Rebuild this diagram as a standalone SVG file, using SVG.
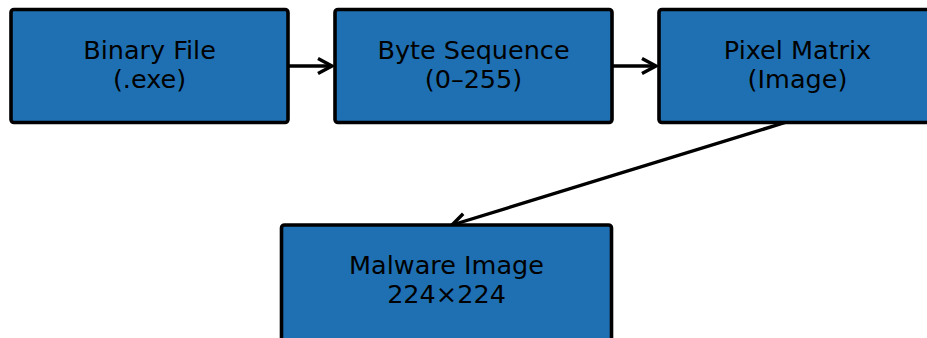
<svg xmlns="http://www.w3.org/2000/svg" width="927" height="338" viewBox="0 0 927 338">
<style>
.box{fill:#1f70b2;stroke:#000;stroke-width:3.6}
.t{font-family:"DejaVu Sans",sans-serif;font-size:25.5px;fill:#000;text-anchor:middle}
.c{stroke:#000;stroke-width:3.4;fill:none}
</style>
<defs>
<marker id="ah" markerUnits="userSpaceOnUse" markerWidth="20" markerHeight="20" refX="16" refY="10" orient="auto" viewBox="0 0 20 20">
<path d="M2,2.5 L16,10 L2,17.5" fill="none" stroke="#000" stroke-width="3.4" stroke-linecap="butt" stroke-linejoin="miter"/>
</marker>
</defs>
<rect width="927" height="338" fill="#fff"/>
<g id="connectors">
<line class="c" x1="288" y1="66" x2="332" y2="66" marker-end="url(#ah)"/>
<line class="c" x1="612" y1="66" x2="656" y2="66" marker-end="url(#ah)"/>
<line class="c" x1="790" y1="121" x2="452" y2="225" marker-end="url(#ah)"/>
</g>
<g id="binary">
<rect class="box" x="11" y="9.5" width="277" height="113" rx="3"/>
<text class="t" x="149.5" y="59">Binary File</text>
<text class="t" x="149.5" y="88">(.exe)</text>
</g>
<g id="bytes">
<rect class="box" x="335" y="9.5" width="277" height="113" rx="3"/>
<text class="t" x="473.5" y="59">Byte Sequence</text>
<text class="t" x="473.5" y="88">(0–255)</text>
</g>
<g id="pixel">
<rect class="box" x="659" y="9.5" width="277" height="113" rx="3"/>
<text class="t" x="797.5" y="59">Pixel Matrix</text>
<text class="t" x="797.5" y="88">(Image)</text>
</g>
<g id="malware">
<rect class="box" x="281.5" y="225" width="330" height="116" rx="3"/>
<text class="t" x="446.5" y="274">Malware Image</text>
<text class="t" x="446.5" y="303">224×224</text>
</g>
</svg>
